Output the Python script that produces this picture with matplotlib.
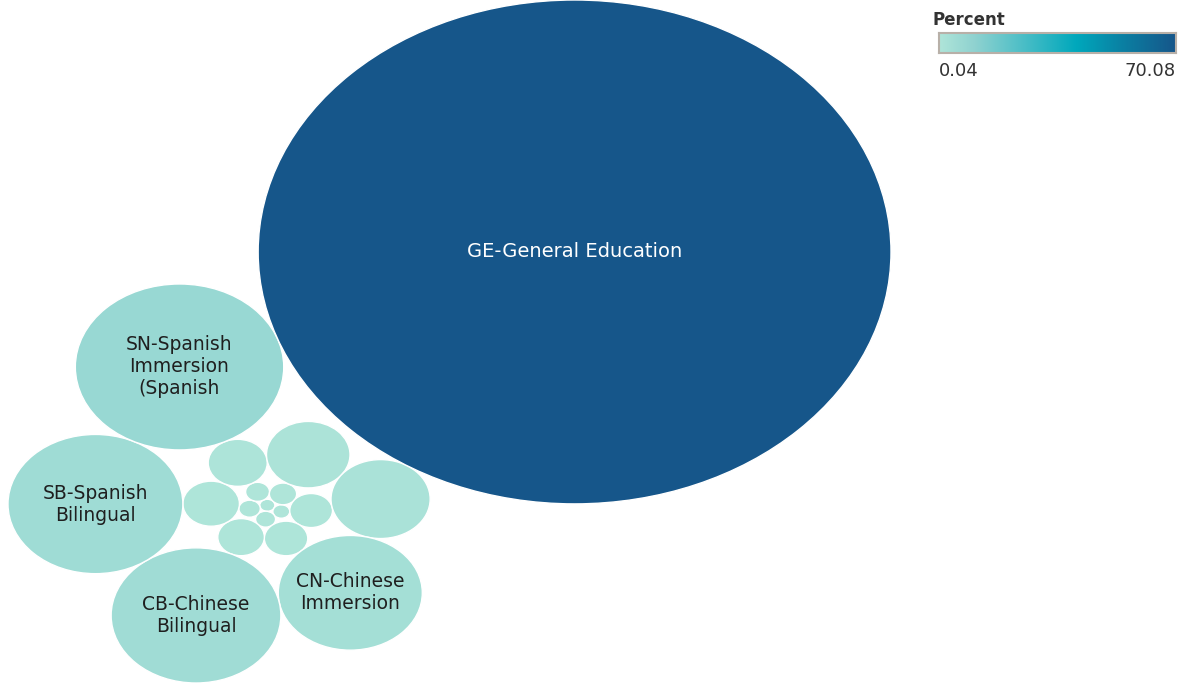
import numpy as np
import matplotlib.pyplot as plt
from matplotlib.patches import Circle
from matplotlib.colors import LinearSegmentedColormap

# share of students by program (percent), largest first
labels = ["GE-General Education", "SN-Spanish\nImmersion\n(Spanish", "SB-Spanish\nBilingual",
          "CB-Chinese\nBilingual", "CN-Chinese\nImmersion",
          "", "", "", "", "", "", "", "", "", "", "", "", ""]
percent = [70.08, 7.60, 5.35, 5.04, 3.63, 1.72, 1.22, 0.61, 0.56, 0.38,
           0.33, 0.32, 0.13, 0.10, 0.08, 0.07, 0.05, 0.04]

cmap = LinearSegmentedColormap.from_list(
    "blue_teal", [(0.0, "#afe5d9"), (0.15, "#8fd2d0"), (0.58, "#00a8bc"),
                  (0.78, "#0b7fa2"), (1.0, "#16568a")])


def tangent_points(c1, r1, c2, r2, r):
    a = r1 + r
    b = r2 + r
    d = np.hypot(*(c2 - c1))
    if d > a + b or d < abs(a - b) or d == 0:
        return []
    x = (a * a - b * b + d * d) / (2 * d)
    h = np.sqrt(max(a * a - x * x, 0.0))
    ex = (c2 - c1) / d
    ey = np.array([-ex[1], ex[0]])
    base = c1 + x * ex
    return [base + h * ey, base - h * ey]


def pack(radii):
    # spiral packing: smallest first, each bubble touches the one placed before it
    # plus one other, stepping clockwise and staying as close to the centre as it can
    centers = [np.zeros(2)]
    for k in range(1, len(radii)):
        r = radii[k]
        if k == 1:
            centers.append(np.array([radii[0] + r, 0.0]))
            continue
        prev = centers[k - 1]
        cands = []
        for j in range(k - 1):
            for p in tangent_points(prev, radii[k - 1], centers[j], radii[j], r):
                if all(np.hypot(*(p - centers[m])) >= radii[m] + r - 1e-6 for m in range(k)):
                    cw = prev[0] * p[1] - prev[1] * p[0] < 0
                    cands.append((not cw, np.hypot(*p), tuple(p)))
        cands.sort()
        centers.append(np.array(cands[0][2]))
    return np.array(centers)


order = np.argsort(percent, kind="stable")
vals = np.array(percent)[order]
radii = np.sqrt(vals)
centers = pack(radii)

# turn the layout so the largest bubble sits up and to the right
big = centers[-1] - centers[0]
theta = np.deg2rad(46) - np.arctan2(big[1], big[0])
rot = np.array([[np.cos(theta), -np.sin(theta)], [np.sin(theta), np.cos(theta)]])
centers = centers @ rot.T

fig = plt.figure(figsize=(11.82, 6.83), dpi=100)
ax = fig.add_axes([8 / 1182, 0, 883 / 1182, 1])
ax.set_axis_off()

vmin, vmax = min(percent), max(percent)
for (cx, cy), r, v, idx in zip(centers, radii, vals, order):
    color = cmap((v - vmin) / (vmax - vmin))
    ax.add_patch(Circle((cx, cy), r, facecolor=color, edgecolor="white", linewidth=1))
    if labels[idx]:
        tc = "white" if v > 35 else "#1f1f1f"
        ax.text(cx, cy, labels[idx], ha="center", va="center", fontsize=14 if v > 35 else 13.5,
                color=tc, linespacing=1.2)

ax.set_xlim((centers[:, 0] - radii).min(), (centers[:, 0] + radii).max())
ax.set_ylim((centers[:, 1] - radii).min(), (centers[:, 1] + radii).max())

# colour legend
fig.text(933 / 1182, 1 - 20 / 683, "Percent", fontsize=12, fontweight="bold", color="#333333",
         ha="left", va="center")
cax = fig.add_axes([939 / 1182, 1 - 53 / 683, 237 / 1182, 20 / 683])
cax.imshow(np.linspace(0, 1, 256)[None, :], cmap=cmap, aspect="auto")
cax.set_xticks([])
cax.set_yticks([])
for s in cax.spines.values():
    s.set_color("#b8b0a8")
    s.set_linewidth(1.5)
fig.text(939 / 1182, 1 - 71 / 683, f"{vmin:.2f}", fontsize=13, color="#333333", ha="left", va="center")
fig.text(1176 / 1182, 1 - 71 / 683, f"{vmax:.2f}", fontsize=13, color="#333333", ha="right", va="center")

fig.savefig("out.png", dpi=100)
